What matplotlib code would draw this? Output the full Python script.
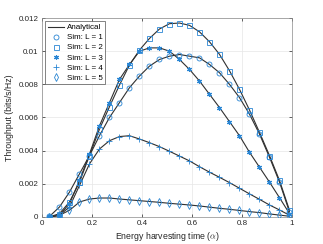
import matplotlib
matplotlib.use("Agg")
import matplotlib.pyplot as plt
import numpy as np

# Data
alpha = [0.03, 0.07, 0.11, 0.15, 0.19, 0.23, 0.27, 0.31, 0.35, 0.39, 0.43, 0.47,
         0.51, 0.55, 0.59, 0.63, 0.67, 0.71, 0.75, 0.79, 0.83, 0.87, 0.91, 0.95, 0.99]

thr_L1 = [0.00003, 0.0006, 0.0015, 0.0026, 0.0037, 0.0049, 0.0060, 0.0069, 0.0078,
          0.0085, 0.0091, 0.0095, 0.0097, 0.0098, 0.0097, 0.0096, 0.0092, 0.0087,
          0.0080, 0.0072, 0.0062, 0.0050, 0.0036, 0.0021, 0.0003]
thr_L2 = [0.0, 0.0002, 0.0009, 0.0021, 0.0037, 0.0053, 0.00665, 0.00796, 0.00917,
          0.01007, 0.01077, 0.01134, 0.01166, 0.0117, 0.01156, 0.01117, 0.01057,
          0.00981, 0.00882, 0.0077, 0.00645, 0.0051, 0.0037, 0.0022, 0.0004]
thr_L3 = [0.0, 0.0001, 0.0008, 0.0022, 0.0038, 0.0055, 0.0069, 0.0083, 0.0092,
          0.0100, 0.0102, 0.0102, 0.0100, 0.0095, 0.0089, 0.0082, 0.0074, 0.0066,
          0.00575, 0.0049, 0.0039, 0.0030, 0.0021, 0.00116, 0.0002]
thr_L4 = [0.0, 0.0001, 0.0006, 0.0019, 0.0032, 0.0041, 0.0046, 0.00485, 0.0049,
          0.0047, 0.00448, 0.00424, 0.00396, 0.00367, 0.00338, 0.00303, 0.0027,
          0.00239, 0.00207, 0.00173, 0.00139, 0.00106, 0.00072, 0.00042, 0.0001]
thr_L5 = [0.0, 0.0001, 0.0004, 0.0009, 0.00108, 0.00114, 0.00114, 0.00108, 0.00103,
          0.00098, 0.00093, 0.00088, 0.00082, 0.00077, 0.00072, 0.00066, 0.00059,
          0.00052, 0.00046, 0.00039, 0.00032, 0.00026, 0.00018, 0.00011, 0.00004]

series = [thr_L1, thr_L2, thr_L3, thr_L4, thr_L5]
markers = ['o', 's', (6, 2, 0), '+', 'd']
labels = ['Sim: L = 1', 'Sim: L = 2', 'Sim: L = 3', 'Sim: L = 4', 'Sim: L = 5']

plt.rcParams['font.family'] = ['Liberation Sans', 'DejaVu Sans']
plt.rcParams['mathtext.fontset'] = 'cm'

fig = plt.figure(figsize=(3.23, 2.44), dpi=100)
ax = fig.add_axes([0.130, 0.111, 0.774, 0.815])

blue = '#2a86d4'
line_col = '#303030'

for i, y in enumerate(series):
    ax.plot(alpha, y, '-', color=line_col, lw=0.8,
            label='Analytical' if i == 0 else None, zorder=2)
for y, m, lab in zip(series, markers, labels):
    if m == '+':
        ax.plot(alpha, y, m, color=blue, ms=4.2, mew=0.6, ls='none', label=lab, zorder=3)
    elif m == (6, 2, 0):
        ax.plot(alpha, y, marker=m, color=blue, ms=3.6, mew=0.8, ls='none', label=lab, zorder=3)
    else:
        ax.plot(alpha, y, m, mfc='none', mec=blue, ms=3.6, mew=0.6, ls='none',
                label=lab, zorder=3)

ax.set_xlim(0, 1)
ax.set_ylim(0, 0.012)
ax.set_xticks([0, 0.2, 0.4, 0.6, 0.8, 1])
ax.set_xticklabels(['0', '0.2', '0.4', '0.6', '0.8', '1'])
ax.set_yticks([0, 0.002, 0.004, 0.006, 0.008, 0.01, 0.012])
ax.set_yticklabels(['0', '0.002', '0.004', '0.006', '0.008', '0.01', '0.012'])
ax.tick_params(direction='in', length=2, width=0.5, labelsize=5.8, colors='#262626',
               top=True, right=True, pad=2.5)
ax.grid(True, color='#e6e6e6', lw=0.5)
ax.set_axisbelow(True)
for s in ax.spines.values():
    s.set_color('#8a8a8a')
    s.set_linewidth(0.5)

ax.set_xlabel(r'Energy harvesting time ($\alpha$)', fontsize=6.3, color='#262626', labelpad=2)
ax.set_ylabel('Throughput (bits/s/Hz)', fontsize=6.3, color='#262626', labelpad=3)

leg = ax.legend(loc='upper left', fontsize=5.8, frameon=True, fancybox=False,
                borderpad=0.3, labelspacing=0.3, handlelength=2.0, handletextpad=0.4,
                borderaxespad=0.4, edgecolor='#262626')
leg.get_frame().set_linewidth(0.5)

fig.savefig('out.png', dpi=100)
